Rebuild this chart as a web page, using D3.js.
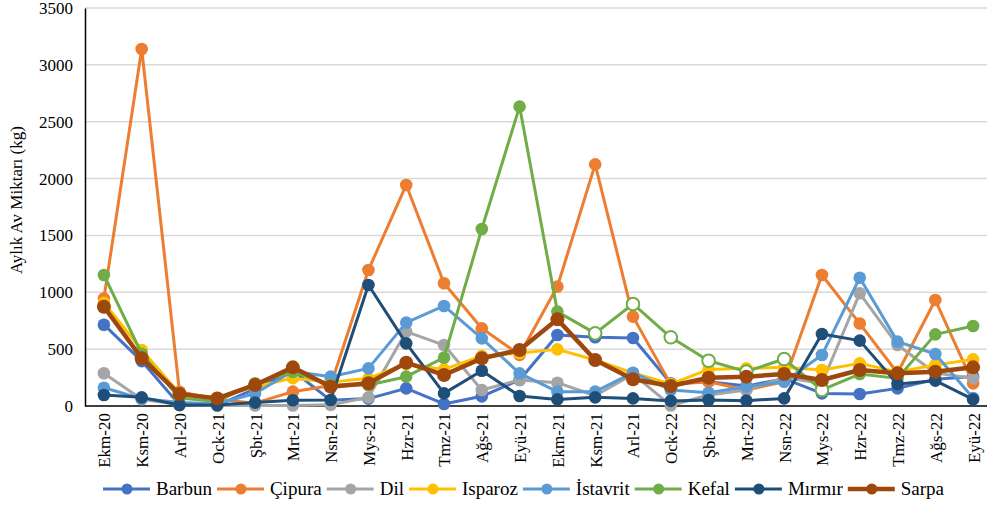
<!DOCTYPE html>
<head>
  <meta charset="utf-8">
  <title>Aylık Av Miktarı</title>
</head>
<style>

html, body {
  width: 100%;
  height: 100%;
  padding: 0;
  margin: 0;
  background: #ffffff;
}

svg {
  font-family: "Liberation Serif", "DejaVu Serif", serif;
}

.grid line {
  stroke: #d9d9d9;
  stroke-width: 1.5px;
}

.series path {
  fill: none;
  stroke-linejoin: round;
}
</style>

<svg class="chart" width="987" height="506"></svg>

<script src="https://d3js.org/d3.v7.min.js"></script>
<script>
// months on the x axis
var months = ["Ekm-20", "Ksm-20", "Arl-20", "Ock-21", "Şbt-21", "Mrt-21", "Nsn-21", "Mys-21",
  "Hzr-21", "Tmz-21", "Ağs-21", "Eyü-21", "Ekm-21", "Ksm-21", "Arl-21", "Ock-22",
  "Şbt-22", "Mrt-22", "Nsn-22", "Mys-22", "Hzr-22", "Tmz-22", "Ağs-22", "Eyü-22"];

var yTicks = [0, 500, 1000, 1500, 2000, 2500, 3000, 3500];

// monthly catch (kg) per species
var barbun   = [715, 395, 10, 5, 150, 310, 50, 65, 155, 18, 85, 229, 624, 605, 598, 200, 214, 175, 240, 111, 105, 155, 235, 260];
var cipura   = [945, 3140, 125, 60, 25, 126, 180, 1196, 1944, 1079, 683, 450, 1050, 2125, 786, 190, 214, 141, 214, 1152, 725, 290, 932, 199];
var dil      = [288, 60, 10, 5, 5, 5, 10, 76, 654, 536, 141, 229, 205, 90, 280, 5, 97, 141, 250, 200, 991, 536, 290, 243];
var isparoz  = [908, 492, 110, 70, 170, 245, 210, 243, 370, 322, 440, 466, 498, 405, 290, 193, 322, 331, 340, 317, 375, 300, 360, 410];
var istavrit = [160, 65, 30, 20, 110, 305, 258, 331, 733, 880, 595, 287, 126, 126, 293, 141, 117, 170, 214, 448, 1128, 566, 457, 70];
var kefal    = [1152, 460, 70, 40, 200, 300, 185, 185, 258, 425, 1557, 2633, 830, 639, 897, 604, 398, 302, 413, 141, 281, 243, 630, 704];
var mirmir   = [97, 76, 9, 8, 30, 50, 53, 1064, 551, 111, 310, 88, 58, 76, 67, 45, 53, 47, 67, 633, 575, 193, 223, 58];
var sarpa    = [873, 420, 105, 67, 185, 340, 170, 200, 381, 273, 419, 492, 762, 405, 235, 176, 249, 258, 281, 229, 317, 287, 302, 340];

// Kefal months drawn with open markers in the original
var kefalOpen = ["Ksm-21", "Arl-21", "Ock-22", "Şbt-22", "Mrt-22", "Nsn-22", "Mys-22"];

var series = [
  { name: "Barbun",   values: barbun,   color: "#4472c4" },
  { name: "Çipura",   values: cipura,   color: "#ed7d31" },
  { name: "Dil",      values: dil,      color: "#a5a5a5" },
  { name: "Isparoz",  values: isparoz,  color: "#ffc000" },
  { name: "İstavrit", values: istavrit, color: "#5b9bd5" },
  { name: "Kefal",    values: kefal,    color: "#70ad47", open: kefalOpen },
  { name: "Mırmır",   values: mirmir,   color: "#1f4e79" },
  { name: "Sarpa",    values: sarpa,    color: "#9e480e", thick: true }
];

var serif = "Liberation Serif, DejaVu Serif, serif";

var svg = d3.select("svg");

// plot area (note: "top" is reserved on window, so use other names)
var plotLeft = 85, plotRight = 992, plotTop = 8, plotBottom = 406;

var x = d3.scalePoint()
          .domain(months)
          .range([plotLeft, plotRight])
          .padding(0.5);

var y = d3.scaleLinear()
          .domain([0, 3500])
          .range([plotBottom, plotTop]);

// horizontal gridlines
svg.append("g")
  .attr("class", "grid")
  .selectAll("line")
  .data(yTicks.filter(function (d) { return d > 0; }))
  .enter().append("line")
    .attr("x1", plotLeft)
    .attr("x2", plotRight)
    .attr("y1", function (d) { return y(d); })
    .attr("y2", function (d) { return y(d); });

// y axis
var yAxis = svg.append("g")
  .attr("transform", "translate(" + plotLeft + ",0)")
  .call(d3.axisLeft(y).tickValues(yTicks).tickFormat(d3.format("d")).tickSize(0).tickPadding(12));
yAxis.attr("font-family", serif).attr("font-size", 17);
yAxis.select(".domain").attr("stroke", "#000").attr("stroke-width", 1.5);
yAxis.selectAll("text").attr("fill", "#000");

svg.append("text")
  .attr("transform", "translate(22,200) rotate(-90)")
  .attr("text-anchor", "middle")
  .attr("font-family", serif)
  .attr("font-size", 17)
  .text("Aylık Av Miktarı (kg)");

// x axis
var xAxis = svg.append("g")
  .attr("transform", "translate(0," + plotBottom + ")")
  .call(d3.axisBottom(x).tickSize(0));
xAxis.attr("font-family", serif).attr("font-size", 17);
xAxis.select(".domain").attr("stroke", "#000").attr("stroke-width", 1.5)
  .attr("d", "M" + plotLeft + ",0H" + plotRight);
xAxis.selectAll("text")
  .attr("fill", "#000")
  .attr("text-anchor", "end")
  .attr("dy", "0.35em")
  .attr("transform", "translate(0,7) rotate(-90)")
  .attr("x", 0)
  .attr("y", 0);

var line = d3.line()
             .x(function (d, i) { return x(months[i]); })
             .y(function (d) { return y(d); });

var groups = svg.selectAll("g.series")
  .data(series)
  .enter().append("g")
    .attr("class", "series");

groups.append("path")
  .attr("d", function (s) { return line(s.values); })
  .attr("stroke", function (s) { return s.color; })
  .attr("stroke-width", function (s) { return s.thick ? 4.5 : 3; });

groups.each(function (s) {
  d3.select(this).selectAll("circle")
    .data(s.values)
    .enter().append("circle")
      .attr("cx", function (d, i) { return x(months[i]); })
      .attr("cy", function (d) { return y(d); })
      .attr("r", s.thick ? 7 : 6.3)
      .attr("fill", function (d, i) {
        return s.open && s.open.indexOf(months[i]) >= 0 ? "#ffffff" : s.color;
      })
      .attr("stroke", s.color)
      .attr("stroke-width", function (d, i) {
        return s.open && s.open.indexOf(months[i]) >= 0 ? 2 : 0;
      });
});

// legend, laid out left to right like the original
var legend = svg.append("g")
  .attr("transform", "translate(103,489)")
  .attr("font-family", serif)
  .attr("font-size", 19);
var lx = 0;
series.forEach(function (s) {
  var item = legend.append("g").attr("transform", "translate(" + lx + ",0)");
  item.append("line")
    .attr("x1", 0).attr("x2", 47)
    .attr("stroke", s.color)
    .attr("stroke-width", s.thick ? 4.5 : 3);
  item.append("circle")
    .attr("cx", 24).attr("r", 5.5)
    .attr("fill", s.color);
  var t = item.append("text")
    .attr("x", 53)
    .attr("y", 6)
    .text(s.name);
  lx += 53 + t.node().getComputedTextLength() + 5;
});
</script>
